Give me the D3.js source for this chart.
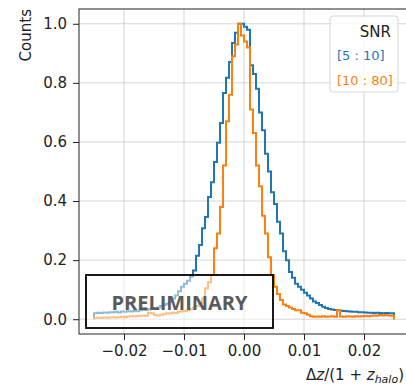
<!DOCTYPE html>
<html>
<head>
<meta charset="utf-8">
<script src="https://cdn.jsdelivr.net/npm/d3@7"></script>
<style>
  body { margin: 0; background: #fff; }
  text { font-family: "DejaVu Sans", sans-serif; }
</style>
</head>
<body>
<svg id="chart" width="406" height="387"></svg>
<script>
// histogram bins: 100 bins from -0.025 to 0.025
var binStart = -0.025, binWidth = 0.0005, nBins = 100;

// normalised counts, SNR in [5:10]
var countsLow = [
  0.020, 0.022, 0.021, 0.023, 0.022, 0.024, 0.024, 0.025, 0.023, 0.026, 0.025, 0.027, 0.026, 0.028, 0.027,
  0.030, 0.032, 0.031, 0.034, 0.036,
  0.038, 0.040, 0.045, 0.048, 0.052, 0.058,
  0.070, 0.080, 0.095, 0.110, 0.120, 0.130, 0.145, 0.165, 0.215,
  0.251, 0.308, 0.346, 0.414, 0.464, 0.532, 0.597, 0.664, 0.766, 0.817, 0.871,
  0.935, 0.970, 1.000, 1.000, 0.990, 0.980,
  0.86, 0.83, 0.78, 0.70, 0.64, 0.56, 0.50, 0.43, 0.39, 0.33, 0.29, 0.23, 0.20, 0.16, 0.14, 0.12, 0.11,
  0.100, 0.090, 0.080, 0.070, 0.060, 0.055, 0.048, 0.042, 0.038, 0.035, 0.033, 0.031, 0.030, 0.029, 0.028, 0.027, 0.026, 0.025, 0.025, 0.024, 0.024, 0.023,
  0.022, 0.022, 0.021, 0.022, 0.021, 0.020, 0.021, 0.020, 0.020
];

// normalised counts, SNR in [10:80]
var countsHigh = [
  0.004, 0.005, 0.004, 0.006, 0.005, 0.006, 0.007, 0.006, 0.007, 0.008, 0.007,
  0.009, 0.010, 0.009, 0.011, 0.012, 0.013, 0.012,
  0.022, 0.020,
  0.014, 0.013, 0.015,
  0.018, 0.020, 0.019, 0.022, 0.021,
  0.025, 0.027, 0.028, 0.030,
  0.035, 0.040, 0.045, 0.055, 0.070, 0.105, 0.125,
  0.15, 0.24, 0.29, 0.38, 0.52, 0.67, 0.76, 0.89, 0.93, 1.00, 0.96, 0.94, 0.92,
  0.71, 0.63, 0.52, 0.45, 0.35, 0.29, 0.21, 0.15, 0.11, 0.085, 0.065, 0.05, 0.045, 0.04, 0.035, 0.03,
  0.030, 0.022, 0.020, 0.015, 0.010, 0.008, 0.009, 0.008, 0.010, 0.008, 0.009, 0.010, 0.008,
  0.030,
  0.009, 0.008, 0.010, 0.009, 0.008, 0.010, 0.009, 0.010, 0.011, 0.010, 0.012,
  0.013, 0.012, 0.014, 0.013, 0.014, 0.013, 0.012
];

var seriesNames = ["[5 : 10]", "[10 : 80]"];
var seriesColors = ["#1f77b4", "#ff7f0e"];
var xTicks = [-0.02, -0.01, 0.00, 0.01, 0.02];
var yTicks = [0.0, 0.2, 0.4, 0.6, 0.8, 1.0];

var svg = d3.select("#chart");
// plot frame in pixels (right edge falls just outside the picture, as in the original)
var pl = 79, pr = 409, pt = 9, pb = 334;

var xScale = d3.scaleLinear().domain([-0.0275, 0.0275]).range([pl, pr]);
var yScale = d3.scaleLinear().domain([-0.05, 1.05]).range([pb, pt]);

var edges = d3.range(nBins + 1).map(function(i) { return binStart + i * binWidth; });

// grid
var grid = svg.append("g");
grid.selectAll(".gx").data(xTicks).enter().append("line")
    .attr("x1", function(d) { return xScale(d); })
    .attr("x2", function(d) { return xScale(d); })
    .attr("y1", pt).attr("y2", pb)
    .attr("stroke", "#b0b0b0").attr("stroke-opacity", 0.65).attr("stroke-width", 0.8);
grid.selectAll(".gy").data(yTicks).enter().append("line")
    .attr("y1", function(d) { return yScale(d); })
    .attr("y2", function(d) { return yScale(d); })
    .attr("x1", pl).attr("x2", pr)
    .attr("stroke", "#b0b0b0").attr("stroke-opacity", 0.65).attr("stroke-width", 0.8);

// step outlines like histtype='step'
function stepPoints(counts) {
    var pts = [[edges[0], 0]];
    counts.forEach(function(v, i) {
        pts.push([edges[i], v]);
        pts.push([edges[i + 1], v]);
    });
    pts.push([edges[nBins], 0]);
    return pts;
}

var line = d3.line()
    .x(function(d) { return xScale(d[0]); })
    .y(function(d) { return yScale(d[1]); });

[countsLow, countsHigh].forEach(function(counts, k) {
    svg.append("path")
        .attr("d", line(stepPoints(counts)))
        .attr("fill", "none")
        .attr("stroke", seriesColors[k])
        .attr("stroke-width", 2)
        .attr("stroke-linejoin", "miter");
});

// axes
var xAxis = d3.axisBottom(xScale).tickValues(xTicks).tickSize(6).tickPadding(5)
    .tickFormat(function(d) { return d3.format(".2f")(d).replace("-", "\u2212"); });
var yAxis = d3.axisLeft(yScale).tickValues(yTicks).tickSize(6).tickPadding(6)
    .tickFormat(d3.format(".1f"));

var gx = svg.append("g").attr("transform", "translate(0," + pb + ")").call(xAxis);
var gy = svg.append("g").attr("transform", "translate(" + pl + ",0)").call(yAxis);
[gx, gy].forEach(function(g) {
    g.select(".domain").remove();
    g.selectAll(".tick line").attr("stroke", "#222").attr("stroke-width", 1);
    g.selectAll(".tick text").attr("fill", "#222").style("font-size", "15px")
        .style("font-family", "DejaVu Sans");
});

// frame
svg.append("rect")
    .attr("x", pl).attr("y", pt)
    .attr("width", pr - pl).attr("height", pb - pt)
    .attr("fill", "none").attr("stroke", "#222").attr("stroke-width", 1);

// labels
svg.append("text")
    .attr("transform", "translate(31," + pt + ") rotate(-90)")
    .attr("text-anchor", "end")
    .attr("fill", "#222")
    .style("font-size", "15px")
    .text("Counts");

var xl = svg.append("text")
    .attr("x", 404).attr("y", 380)
    .attr("text-anchor", "end")
    .attr("fill", "#222")
    .style("font-size", "15px");
xl.append("tspan").text("\u0394");
xl.append("tspan").style("font-style", "italic").text("z");
xl.append("tspan").text("/(1 + ");
xl.append("tspan").style("font-style", "italic").text("z");
xl.append("tspan").style("font-style", "italic").style("font-size", "11px").attr("dy", 3).text("halo");
xl.append("tspan").attr("dy", -3).text(")");

// legend
var lg = svg.append("g");
lg.append("rect")
    .attr("x", 330).attr("y", 16).attr("width", 68).attr("height", 76).attr("rx", 3)
    .attr("fill", "#fff").attr("fill-opacity", 0.8)
    .attr("stroke", "#d6d6d6").attr("stroke-width", 1);
lg.append("text")
    .attr("x", 391).attr("y", 37).attr("text-anchor", "end")
    .attr("fill", "#222").style("font-size", "15px").text("SNR");
lg.selectAll(".lab").data(seriesNames).enter().append("text")
    .attr("x", 337)
    .attr("y", function(d, i) { return 60 + i * 25; })
    .attr("fill", function(d, i) { return seriesColors[i]; })
    .style("font-size", "13px")
    .text(function(d) { return d; });

// preliminary watermark box
svg.append("rect")
    .attr("x", 86).attr("y", 275).attr("width", 187).attr("height", 53)
    .attr("fill", "#fff").attr("fill-opacity", 0.5)
    .attr("stroke", "#000").attr("stroke-width", 1.8);
svg.append("text")
    .attr("x", 179.5).attr("y", 310).attr("text-anchor", "middle")
    .attr("fill", "#5a5a5a")
    .style("font-family", "'Open Sans', sans-serif")
    .style("font-weight", "bold")
    .style("font-size", "20px")
    .text("PRELIMINARY");
</script>
</body>
</html>
